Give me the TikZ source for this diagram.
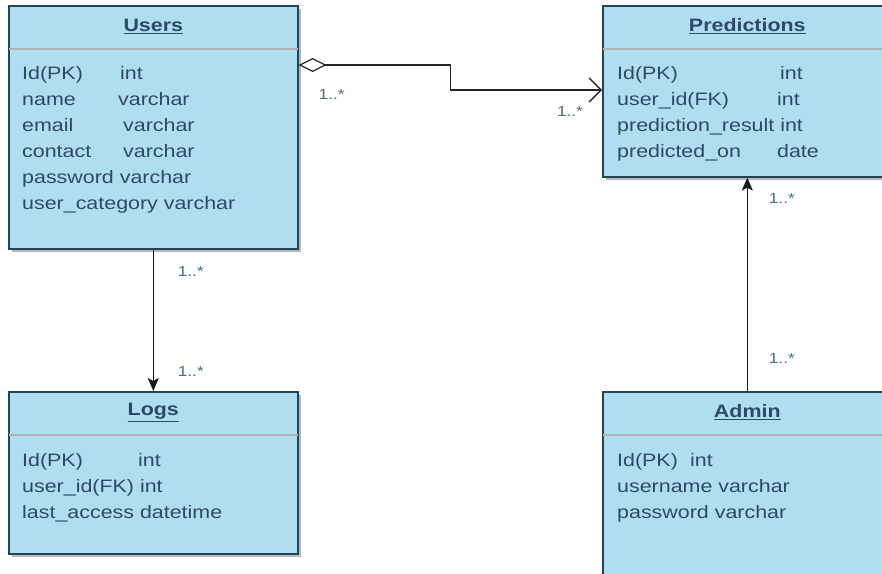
\documentclass[tikz,border=0pt]{standalone}
\usepackage{fontspec}
\setmainfont{Liberation Sans}[FakeStretch=1.19]
\usetikzlibrary{arrows.meta, positioning, shadows}

\definecolor{umlfill}{HTML}{B1DDF0}
\definecolor{umlborder}{HTML}{23445D}
\definecolor{umltext}{HTML}{2C4A68}
\definecolor{multtext}{HTML}{4A6A8A}

\newcommand{\fieldcol}[2]{\makebox[#1][l]{#2}}

\begin{document}
\begin{tikzpicture}[
    x=1pt, y=-1pt,
    classbox/.style={rectangle, draw=umlborder, fill=umlfill, line width=1.6pt, minimum width=289pt, anchor=north west, inner sep=0pt,
        drop shadow={shadow xshift=3.5pt, shadow yshift=-3.5pt, fill=black!28, opacity=1}},
    classtitle/.style={font=\fontsize{18}{22}\selectfont\bfseries, text=umltext, inner sep=0pt},
    fields/.style={font=\fontsize{18}{26}\selectfont, text=umltext, align=left, anchor=north west, inner sep=0pt},
    headline/.style={draw=black!30, line width=2.5pt},
    mult/.style={font=\fontsize{14.5}{16}\selectfont, text=multtext, inner sep=0pt},
    aggr/.style={draw=black!85, line width=1.4pt, {Diamond[open, length=28pt, width=14pt, line width=1.2pt]}-{Straight Barb[length=12pt, width=24pt, line width=1.4pt]}},
    assoc/.style={draw=black!90, line width=1.4pt, -{Stealth[length=13pt, width=11pt, inset=3pt]}}
]
\useasboundingbox (0,0) rectangle (882,573);

% class boxes
\node[classbox, minimum height=243pt] (users) at (8,5) {};
\node[classbox, minimum height=171pt] (pred) at (602,5) {};
\node[classbox, minimum height=162pt] (logs) at (8,391) {};
\node[classbox, minimum height=195pt] (admin) at (602,391) {};

% header lines
\foreach \c in {users, pred, logs, admin}
  \draw[headline] ([yshift=-44pt, xshift=0.8pt]\c.north west) -- ([yshift=-44pt, xshift=-0.8pt]\c.north east);

% titles
\node[classtitle] (usersT) at ([yshift=-21.5pt]users.north) {\underline{Users}};
\node[classtitle] (predT) at ([yshift=-21.5pt]pred.north) {\underline{Predictions}};
\node[classtitle] (logsT) at ([yshift=-21.5pt]logs.north) {\underline{Logs}};
\node[classtitle] (adminT) at ([yshift=-21.5pt]admin.north) {\underline{Admin}};

% attributes
\node[fields] (usersF) at ([xshift=14pt, yshift=-61pt]users.north west)
  {\fieldcol{98pt}{Id(PK)}int\\
   \fieldcol{96pt}{name}varchar\\
   \fieldcol{101pt}{email}varchar\\
   \fieldcol{101pt}{contact}varchar\\
   password varchar\\
   user\_category varchar};
\node[fields] (predF) at ([xshift=15pt, yshift=-61pt]pred.north west)
  {\fieldcol{163pt}{Id(PK)}int\\
   \fieldcol{160pt}{user\_id(FK)}int\\
   prediction\_result int\\
   \fieldcol{160pt}{predicted\_on}date};
\node[fields] (logsF) at ([xshift=14pt, yshift=-62pt]logs.north west)
  {\fieldcol{116pt}{Id(PK)}int\\
   user\_id(FK) int\\
   last\_access datetime};
\node[fields] (adminF) at ([xshift=15pt, yshift=-62pt]admin.north west)
  {\fieldcol{73pt}{Id(PK)}int\\
   username varchar\\
   password varchar};

% connectors
\draw[aggr] ([yshift=-60pt]users.north east) -- ++(152,0) |- ([yshift=-85pt]pred.north west);
\draw[assoc] (users.south) -- (logs.north);
\draw[assoc] (admin.north) -- (pred.south);

% multiplicities
\node[mult] (m1) at ([xshift=33pt, yshift=-90pt]users.north east) {1..*};
\node[mult] (m2) at ([xshift=-32pt, yshift=-107pt]pred.north west) {1..*};
\node[mult] (m3) at ([xshift=37.5pt, yshift=-22pt]users.south) {1..*};
\node[mult] (m4) at ([xshift=37.5pt, yshift=19pt]logs.north) {1..*};
\node[mult] (m5) at ([xshift=34.5pt, yshift=-21pt]pred.south) {1..*};
\node[mult] (m6) at ([xshift=34.5pt, yshift=32pt]admin.north) {1..*};

\end{tikzpicture}
\end{document}
